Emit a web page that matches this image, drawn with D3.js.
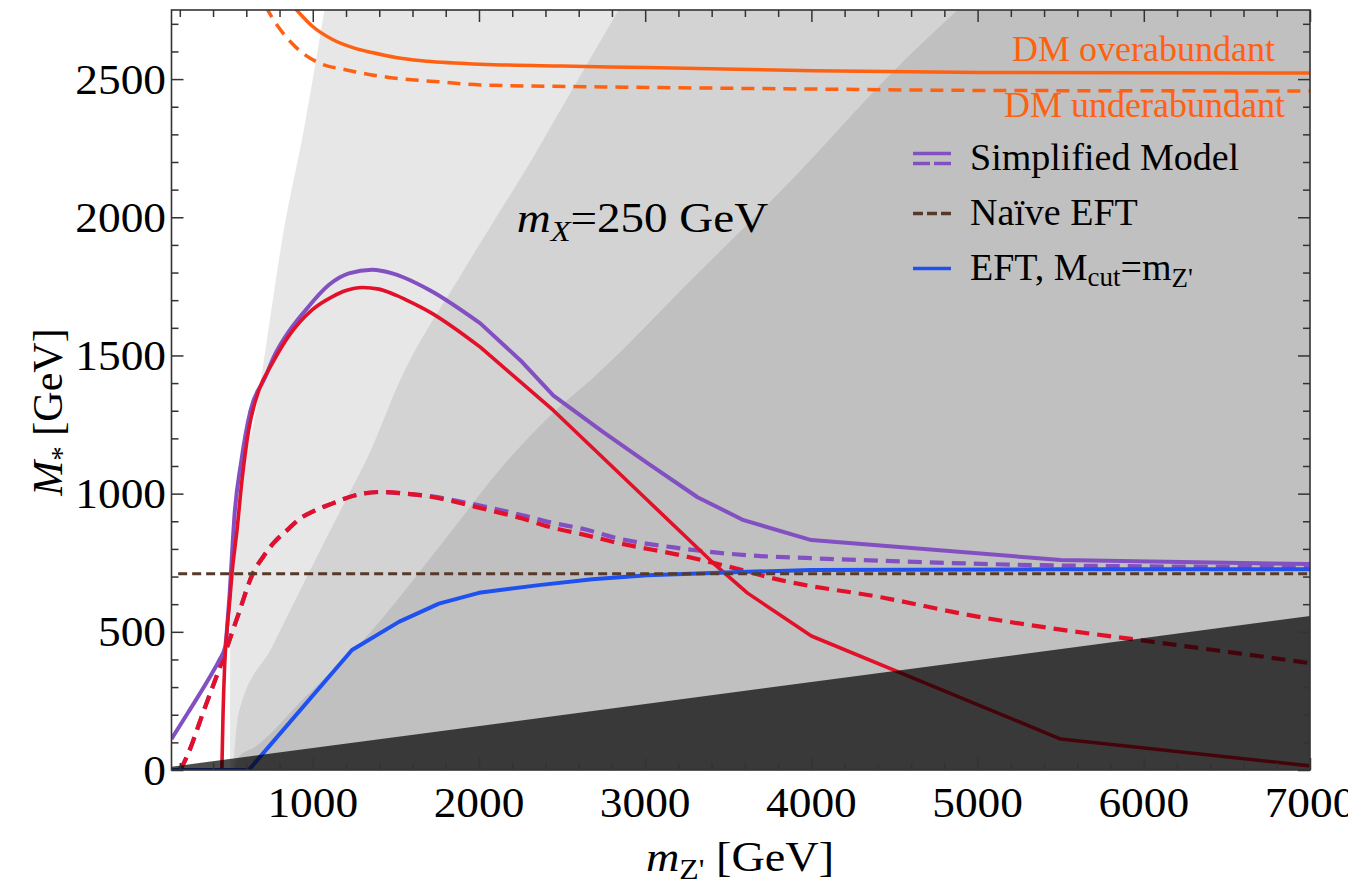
<!DOCTYPE html>
<html><head><meta charset="utf-8">
<script src="https://cdn.jsdelivr.net/npm/d3@7"></script>
<style>
body{margin:0;background:#fff}
svg{display:block}
text{font-family:"Liberation Serif","Times New Roman",serif;fill:#000}
</style>
</head><body>
<svg id="chart" width="1348" height="890"></svg>
<script>
// ---------- data ----------
const xTickLabels = [1000, 2000, 3000, 4000, 5000, 6000, 7000];
const yTickLabels = [0, 500, 1000, 1500, 2000, 2500];

const simplifiedSolid = [[150,112],[250,208],[393,349],[440,400],[473,446],[490,560],[500,640],[510,740],[530,929],[568,1110],[625,1300],[713,1420],[770,1500],[833,1566],[954,1662],[1096,1755],[1217,1797],[1357,1810],[1478,1797],[1544,1783],[1707,1735],[2008,1616],[2250,1482],[2448,1355],[2750,1222],[3014,1110],[3315,987],[3592,904],[4000,832],[5500,760],[7000,745]];
const simplifiedDashed = [[200,0],[223,24],[353,229],[464,410],[554,566],[640,712],[700,770],[762,820],[855,873],[923,910],[996,934],[1116,964],[1257,994],[1398,1006],[1558,1000],[1719,990],[1859,975],[2060,950],[2261,922],[2422,897],[2642,870],[2809,842],[3213,802],[3616,777],[4015,766],[4418,757],[5500,740],[7000,734]];
const redSolid = [[453,0],[460,200],[470,380],[484,506],[500,610],[514,711],[544,867],[574,1048],[614,1229],[675,1373],[755,1470],[855,1570],[996,1665],[1116,1712],[1200,1735],[1300,1746],[1398,1740],[1500,1718],[1558,1702],[1707,1656],[2008,1530],[2448,1301],[3014,976],[3411,748],[3616,640],[4000,485],[5500,112],[7000,15]];
const redDashed = [[200,0],[223,24],[353,229],[464,410],[554,566],[640,712],[700,770],[762,820],[855,873],[923,910],[996,934],[1116,964],[1257,994],[1398,1006],[1558,1000],[1719,988],[1859,970],[2060,940],[2261,910],[2422,880],[2642,850],[2809,825],[3213,777],[3514,734],[3815,687],[4418,625],[5000,555],[5500,508],[5940,473],[7000,387]];
const eftCut = [[150,0],[615,0],[1236,434],[1518,536],[1759,602],[2000,641],[2361,669],[2682,690],[3014,705],[3616,717],[4000,724],[5500,726],[7000,726]];
const naiveEFT = [[190,710],[7000,710]];
const overabundant = [[880,2765],[916,2741],[996,2692],[1116,2644],[1250,2612],[1357,2596],[1500,2578],[1658,2566],[2008,2554],[2500,2547],[3012,2542],[4014,2530],[5020,2524],[7000,2522]];
const underabundant = [[715,2765],[755,2723],[835,2656],[935,2596],[1056,2554],[1196,2534],[1458,2506],[1759,2490],[2008,2479],[3012,2470],[4014,2464],[5020,2459],[7000,2457]];

const boundA = [[503,0],[505,600],[540,950],[600,1150],[644,1253],[720,1540],[815,1915],[954,2342],[1070,2750]];
const boundB = [[520,0],[554,206],[755,445],[954,687],[1158,929],[1357,1167],[1518,1400],[1900,1800],[2349,2241],[2470,2367],[2840,2750]];
const boundC = [[530,0],[554,47],[652,83],[954,264],[1357,506],[1759,806],[2158,1110],[2442,1290],[2689,1420],[3292,1782],[3894,2143],[4496,2530],[4880,2750]];
const darkEdge = [[150,12],[7000,557]];

// ---------- setup ----------
const svg = d3.select("#chart");
const x = d3.scaleLinear().domain([150, 7000]).range([171.5, 1310]);
const y = d3.scaleLinear().domain([0, 2750]).range([770, 10]);
const [X0, X1] = x.range(), [Y0, Y1] = y.range();

svg.append("defs").append("clipPath").attr("id","plotclip")
  .append("rect").attr("x",X0).attr("y",Y1).attr("width",X1-X0).attr("height",Y0-Y1);

const plot = svg.append("g").attr("clip-path","url(#plotclip)");
const line = d3.line().x(d=>x(d[0])).y(d=>y(d[1]));
const smooth = d3.line().x(d=>x(d[0])).y(d=>y(d[1])).curve(d3.curveMonotoneX);
const xMax = x.domain()[1], yMax = y.domain()[1];

// shaded regions
[[boundA,"#e7e7e7"],[boundB,"#d3d3d3"],[boundC,"#c0c0c0"]].forEach(([b,c])=>{
  plot.append("path")
    .attr("d", smooth(b) + "L" + x(xMax) + "," + y(yMax) + "L" + x(xMax) + "," + y(0) + "Z")
    .attr("fill", c);
});

// curves: smooth up to `split` (m value), straight segments after it
function curve(data, color, width, dash, split){
  let d;
  if (split === undefined) d = smooth(data);
  else if (split === null) d = line(data);
  else {
    const a = data.filter(p => p[0] <= split), b = data.filter(p => p[0] >= split);
    d = smooth(a) + line(b).replace(/^M/, "L");
  }
  const p = plot.append("path").attr("d", d).attr("fill","none")
    .attr("stroke", color).attr("stroke-width", width).attr("stroke-linejoin","round");
  if (dash) p.attr("stroke-dasharray", dash);
  return p;
}
const PURPLE = "#8350c2", RED = "#e3102a", BLUE = "#1f50f0", ORANGE = "#ff6112", BROWN = "#553a2a";
curve(overabundant, ORANGE, 3.5);
curve(underabundant, ORANGE, 3.5, "13,8");
curve(simplifiedDashed, PURPLE, 4.2, "14,8");
curve(redDashed, RED, 4.2, "14,8");
curve(simplifiedSolid, PURPLE, 4, null, 2008);
curve(redSolid, RED, 3.6, null, 2008);
curve(eftCut, BLUE, 4, null, null);
curve(naiveEFT, BROWN, 3, "9,5", null);

// dark exclusion overlay
plot.append("path")
  .attr("d", line([darkEdge[0], darkEdge[1], [darkEdge[1][0],0], [darkEdge[0][0],0]]) + "Z")
  .attr("fill","#000").attr("fill-opacity",0.7);

// ---------- axes / frame ----------
const minorX = d3.range(200, 7001, 200).filter(v => v % 1000 !== 0);
const minorY = d3.range(100, 2750, 100).filter(v => v % 500 !== 0);
const majorX = d3.range(1000, 7001, 1000);
const majorY = d3.range(0, 2750, 500);
const axStroke = "#333";
function tickAxis(gen, ticks, len, tr){
  const g = svg.append("g").attr("transform", tr)
    .call(gen.tickValues(ticks).tickSize(-len).tickFormat(""));
  g.select(".domain").remove();
  g.selectAll(".tick line").attr("stroke", axStroke).attr("stroke-width",1.5);
}
tickAxis(d3.axisBottom(x), majorX, 12, `translate(0,${Y0})`);
tickAxis(d3.axisBottom(x), minorX, 7, `translate(0,${Y0})`);
tickAxis(d3.axisTop(x), majorX, 12, `translate(0,${Y1})`);
tickAxis(d3.axisTop(x), minorX, 7, `translate(0,${Y1})`);
tickAxis(d3.axisLeft(y), majorY, 12, `translate(${X0},0)`);
tickAxis(d3.axisLeft(y), minorY, 7, `translate(${X0},0)`);
tickAxis(d3.axisRight(y), majorY, 12, `translate(${X1},0)`);
tickAxis(d3.axisRight(y), minorY, 7, `translate(${X1},0)`);

svg.append("rect").attr("x",X0).attr("y",Y1).attr("width",X1-X0).attr("height",Y0-Y1)
  .attr("fill","none").attr("stroke",axStroke).attr("stroke-width",1.6);

// text helper (with horizontal scale)
function stext(px, py, sx, anchor, size){
  return svg.append("text").attr("transform",`translate(${px},${py}) scale(${sx},1)`)
    .attr("text-anchor", anchor).attr("font-size", size);
}
xTickLabels.forEach(v => stext(x(v), 817, 1.08, "middle", 42).text(v));
yTickLabels.forEach(v => stext(166, y(v) + 14.5, 1.08, "end", 42).text(v));

// axis titles
const xt = stext(740, 871, 1.1, "middle", 42);
xt.append("tspan").attr("font-style","italic").text("m");
xt.append("tspan").attr("font-size",29).attr("dy",8).text("Z'");
xt.append("tspan").attr("dy",-8).text(" [GeV]");

const yt = svg.append("text").attr("transform","translate(62,412) rotate(-90)")
  .attr("text-anchor","middle").attr("font-size",42);
yt.append("tspan").attr("font-style","italic").text("M");
yt.append("tspan").attr("font-size",29).attr("dy",9).text("*");
yt.append("tspan").attr("dy",-9).text(" [GeV]");

// in-plot label
const ml = stext(516.7, 232, 1.12, "start", 42);
ml.append("tspan").attr("font-style","italic").text("m");
ml.append("tspan").attr("font-style","italic").attr("font-size",29).attr("dy",9).text("X");
ml.append("tspan").attr("dy",-9).text("=250 GeV");

// DM labels
stext(1275, 61, 1.0, "end", 36).style("fill", ORANGE).text("DM overabundant");
stext(1285, 117, 1.0, "end", 36).style("fill", ORANGE).text("DM underabundant");

// legend
const LX0 = 913, LX1 = 951, TX = 970;
svg.append("line").attr("x1",LX0).attr("x2",LX1).attr("y1",153.5).attr("y2",153.5).attr("stroke",PURPLE).attr("stroke-width",3.5);
svg.append("line").attr("x1",LX0).attr("x2",LX1).attr("y1",163.5).attr("y2",163.5).attr("stroke",PURPLE).attr("stroke-width",3.5).attr("stroke-dasharray","17,4");
svg.append("line").attr("x1",LX0).attr("x2",LX1).attr("y1",213.5).attr("y2",213.5).attr("stroke",BROWN).attr("stroke-width",3.5).attr("stroke-dasharray","10,4");
svg.append("line").attr("x1",LX0).attr("x2",LX1).attr("y1",268.5).attr("y2",268.5).attr("stroke",BLUE).attr("stroke-width",3.5);
stext(TX, 170, 1.0, "start", 38).text("Simplified Model");
stext(TX, 225, 1.0, "start", 38).text("Naïve EFT");
const le = stext(TX, 280, 1.0, "start", 38);
le.append("tspan").text("EFT, M");
le.append("tspan").attr("font-size",27).attr("dy",6).text("cut");
le.append("tspan").attr("dy",-6).text("=m");
le.append("tspan").attr("font-size",27).attr("dy",7).text("Z'");
</script>
</body></html>
